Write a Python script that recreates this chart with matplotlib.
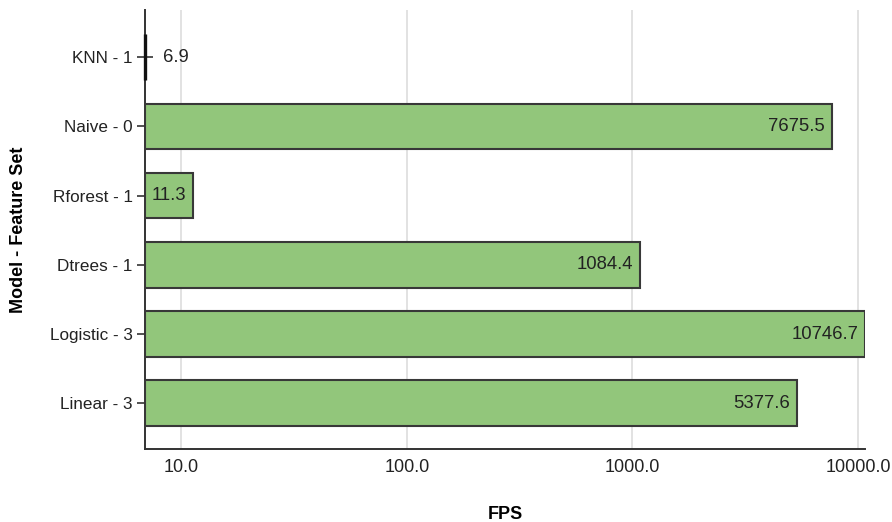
import matplotlib
matplotlib.use("Agg")
import matplotlib.pyplot as plt
import numpy as np

plt.rcParams['font.family'] = ['Liberation Sans', 'DejaVu Sans']

models = ["Linear - 3", "Logistic - 3", "Dtrees - 1", "Rforest - 1", "Naive - 0", "KNN - 1"]
fps = [5377.6, 10746.7, 1084.4, 11.3, 7675.5, 6.9]
xticks = [10.0, 100.0, 1000.0, 10000.0]

bar_color = "#92c67b"
edge_color = "#383838"

fig = plt.figure(figsize=(8.92, 5.22), dpi=100)
ax = fig.add_axes([0.1626, 0.1398, 0.8071, 0.8410])

x_lo, x_hi = min(fps), max(fps)
y = np.arange(len(models))
widths = [v - x_lo for v in fps]
ax.barh(y, widths, left=x_lo, height=0.66, color=bar_color,
        edgecolor=edge_color, linewidth=1.5, zorder=3)

ax.set_xscale("log")
ax.set_xlim(x_lo, x_hi)
ax.set_ylim(-0.66, len(models) - 1 + 0.68)

ax.set_xticks(xticks)
ax.set_xticklabels([f"{t:.1f}" for t in xticks])
ax.xaxis.set_minor_locator(matplotlib.ticker.NullLocator())
ax.set_yticks(y)
ax.set_yticklabels(models)

ax.grid(axis="x", color="#dddddd", linewidth=1.2, zorder=0)
ax.tick_params(axis="x", length=0, pad=7, labelsize=13, colors="#222222")
ax.tick_params(axis="y", direction="inout", length=11, width=1.2,
               color="#333333", labelsize=12.3, pad=3.5, labelcolor="#222222")

for side in ("top", "right"):
    ax.spines[side].set_visible(False)
for side in ("left", "bottom"):
    ax.spines[side].set_color("#333333")
    ax.spines[side].set_linewidth(1.4)

# value labels: inside the bar end when there is room, otherwise just past it
for yi, v in zip(y, fps):
    disp_end = ax.transData.transform((v, yi))[0]
    disp_start = ax.transData.transform((x_lo, yi))[0]
    if disp_end - disp_start > 40:
        ax.annotate(f"{v:.1f}", (v, yi), xytext=(-5, 0), textcoords="offset points",
                    ha="right", va="center", fontsize=13.3, color="#222222", zorder=4)
    else:
        ax.annotate(f"{v:.1f}", (v, yi), xytext=(13, 0), textcoords="offset points",
                    ha="left", va="center", fontsize=13.3, color="#222222", zorder=4)

# the zero-width bar shows only as a dark edge along the axis
ax.plot([x_lo, x_lo], [y[-1] - 0.33, y[-1] + 0.33], color="#111111",
        linewidth=2.4, solid_capstyle="butt", zorder=5, clip_on=False)

ax.set_xlabel("FPS", fontsize=13, fontweight="bold", labelpad=22)
ax.set_ylabel("Model - Feature Set", fontsize=13, fontweight="bold", labelpad=16)

fig.savefig("out.png", dpi=100)
